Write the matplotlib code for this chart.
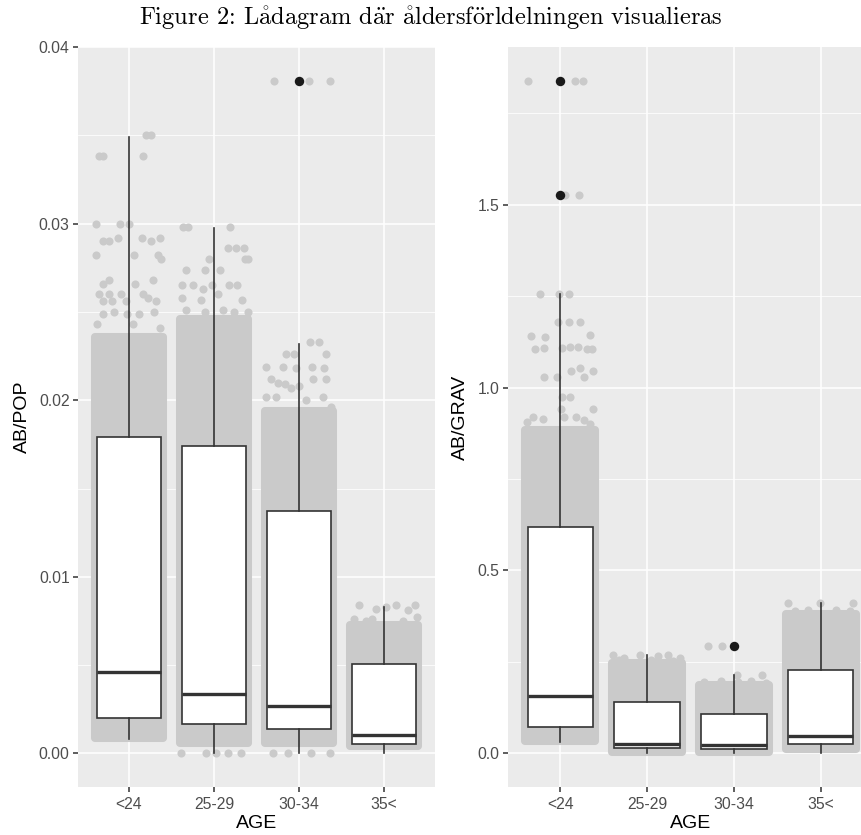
import matplotlib
matplotlib.use("Agg")
import matplotlib.pyplot as plt
from matplotlib.ticker import MultipleLocator

age_groups = ["<24", "25-29", "30-34", "35<"]

# AB/POP boxplot statistics
pop_q1 = [0.0020, 0.00164, 0.0014, 0.00055]
pop_med = [0.00461, 0.00334, 0.00266, 0.00102]
pop_q3 = [0.01789, 0.01739, 0.01373, 0.00508]
pop_whislo = [0.00083, 0.0, 0.0, 0.0]
pop_whishi = [0.03488, 0.02973, 0.02321, 0.00829]
pop_outliers = [[], [], [0.0381], []]
# dense part of the jittered point cloud (low, high)
pop_dense_lo = [0.0009, 0.0006, 0.0006, 0.0004]
pop_dense_hi = [0.0236, 0.0246, 0.0194, 0.0073]

# sparse jittered points (value, jitter offset)
pop_pts_lt24 = [(0.0350, 0.20), (0.0350, 0.26), (0.0338, -0.35), (0.0338, -0.31), (0.0338, 0.17),
                (0.0300, -0.39), (0.0300, -0.11), (0.0300, 0.0), (0.0290, -0.31), (0.0290, -0.23),
                (0.0292, -0.13), (0.0292, 0.15), (0.0290, 0.26), (0.0292, 0.36), (0.0282, -0.39),
                (0.0282, 0.06), (0.0282, 0.34), (0.0280, 0.38), (0.0268, -0.23), (0.0266, -0.31),
                (0.0266, 0.07), (0.0268, 0.28), (0.0260, -0.35), (0.0260, -0.23), (0.0260, -0.09),
                (0.0260, 0.16), (0.0258, 0.22), (0.0256, 0.32), (0.0256, -0.30), (0.0256, -0.20),
                (0.0256, -0.04), (0.0249, -0.30), (0.0250, -0.18), (0.0249, -0.02), (0.0249, 0.12),
                (0.0250, 0.29), (0.0243, -0.38), (0.0241, 0.37), (0.0243, 0.05)]
pop_pts_2529 = [(0.0298, -0.37), (0.0298, -0.31), (0.0298, 0.19), (0.0286, 0.17), (0.0286, 0.26),
                (0.0286, 0.35), (0.0280, 0.36), (0.0280, 0.40), (0.0280, -0.06), (0.0274, -0.33),
                (0.0274, -0.11), (0.0274, 0.07), (0.0265, -0.38), (0.0265, -0.25), (0.0263, -0.13),
                (0.0265, -0.02), (0.0265, 0.18), (0.0265, 0.27), (0.0258, -0.38), (0.0257, -0.15),
                (0.0257, 0.33), (0.0260, 0.05), (0.0250, 0.40), (0.0251, -0.33), (0.0250, -0.11),
                (0.0251, 0.10), (0.0250, 0.24), (0.0, -0.39), (0.0, -0.09), (0.0, 0.02),
                (0.0, 0.16), (0.0, 0.32)]
pop_pts_3034 = [(0.0381, -0.30), (0.0381, 0.12), (0.0381, 0.36), (0.0233, 0.13), (0.0233, 0.24),
                (0.0226, -0.15), (0.0226, -0.06), (0.0226, 0.32), (0.0219, -0.39), (0.0219, -0.19),
                (0.0218, -0.04), (0.0219, 0.15), (0.0218, 0.29), (0.0212, -0.33), (0.0210, -0.25),
                (0.0209, -0.17), (0.0212, 0.16), (0.0212, 0.32), (0.0202, -0.39), (0.0202, -0.27),
                (0.0207, -0.10), (0.0208, 0.0), (0.0202, 0.28), (0.0196, 0.38), (0.0200, 0.08),
                (0.0, -0.31), (0.0, -0.13), (0.0, 0.14), (0.0, 0.36)]
pop_pts_35 = [(0.0084, -0.29), (0.0082, -0.09), (0.0084, 0.14), (0.0084, 0.36), (0.0081, 0.28),
              (0.0083, 0.02), (0.0076, -0.35), (0.0075, -0.21), (0.0076, -0.14), (0.0075, 0.22),
              (0.0077, 0.39)]

# AB/GRAV boxplot statistics
grav_q1 = [0.072, 0.0146, 0.011, 0.0265]
grav_med = [0.158, 0.0265, 0.022, 0.0465]
grav_q3 = [0.618, 0.140, 0.108, 0.227]
grav_whislo = [0.031, 0.0, 0.0, 0.0]
grav_whishi = [1.256, 0.268, 0.213, 0.411]
grav_outliers = [[1.839, 1.526], [], [0.293], []]
grav_dense_lo = [0.033, 0.004, 0.004, 0.012]
grav_dense_hi = [0.885, 0.246, 0.186, 0.382]

grav_pts_lt24 = [(1.839, -0.37), (1.839, 0.17), (1.839, 0.26), (1.526, 0.06), (1.526, 0.22),
                 (1.256, -0.23), (1.256, -0.01), (1.256, 0.10), (1.178, -0.03), (1.178, 0.10),
                 (1.178, 0.23), (1.142, -0.34), (1.138, -0.17), (1.145, 0.34), (1.106, -0.29),
                 (1.108, -0.19), (1.107, 0.02), (1.110, 0.11), (1.112, 0.21), (1.106, 0.31),
                 (1.106, 0.37), (1.030, -0.19), (1.030, -0.04), (1.046, 0.13), (1.054, 0.23),
                 (1.045, 0.38), (1.030, 0.28), (0.975, 0.02), (0.975, 0.11), (0.942, 0.01),
                 (0.942, 0.38), (0.919, -0.31), (0.915, -0.20), (0.919, 0.05), (0.919, 0.18),
                 (0.912, 0.27), (0.905, -0.38), (0.900, 0.34)]
grav_pts_2529 = [(0.268, -0.39), (0.262, -0.27), (0.268, -0.08), (0.266, 0.13), (0.268, 0.24),
                 (0.262, 0.38), (0.255, -0.32), (0.255, 0.05), (0.252, 0.30)]
grav_pts_3034 = [(0.293, -0.30), (0.293, -0.14), (0.213, 0.32), (0.213, 0.03), (0.195, -0.35),
                 (0.198, -0.15), (0.196, 0.05), (0.197, 0.20), (0.193, 0.37)]
grav_pts_35 = [(0.411, -0.38), (0.411, -0.01), (0.411, 0.37), (0.390, -0.30), (0.392, -0.15),
               (0.393, 0.18), (0.390, 0.33)]

title = "Figure 2: Lådagram där åldersförldelningen visualieras"

POINT = "#CACACA"
INK = "#333333"
plt.rcParams["font.family"] = ["Liberation Sans", "DejaVu Sans"]
plt.rcParams["mathtext.fontset"] = "cm"

# cmr10 has no precomposed Swedish letters, so build them with math accents
ACCENTS = {"å": r"$\mathring{\mathrm{a}}$", "ä": r'$\ddot{\mathrm{a}}$', "ö": r'$\ddot{\mathrm{o}}$'}


def cm_text(s):
    return "".join(ACCENTS.get(c, c) for c in s)


def panel(ax, q1, med, q3, lo, hi, outl, dlo, dhi, pts, ylabel, yticks, ylabels, ylim, minor):
    pos = list(range(1, len(age_groups) + 1))
    ax.set_facecolor("#EBEBEB")
    # dense point cloud
    ax.bar(pos, [h - l for l, h in zip(dlo, dhi)], bottom=dlo, width=0.8, color=POINT,
           edgecolor=POINT, linewidth=5.8, joinstyle="round", zorder=2)
    for p, grp in zip(pos, pts):
        ax.scatter([p + d for _, d in grp], [v for v, _ in grp], s=34, color=POINT,
                   linewidths=0, zorder=2)
    stats = []
    for i in range(len(pos)):
        stats.append(dict(q1=q1[i], med=med[i], q3=q3[i], whislo=lo[i], whishi=hi[i],
                          fliers=outl[i]))
    ax.bxp(stats, positions=pos, widths=0.75, showcaps=False, patch_artist=True,
           boxprops=dict(facecolor="white", edgecolor=INK, linewidth=1.2),
           whiskerprops=dict(color=INK, linewidth=1.2),
           medianprops=dict(color=INK, linewidth=2.4),
           flierprops=dict(marker="o", markerfacecolor="#1A1A1A", markeredgecolor="none",
                           markersize=6.8),
           zorder=3)
    ax.set_xlim(0.4, 4.6)
    ax.set_ylim(*ylim)
    ax.set_xticks(pos)
    ax.set_xticklabels(age_groups)
    ax.set_yticks(yticks)
    ax.set_yticklabels(ylabels)
    ax.yaxis.set_minor_locator(MultipleLocator(minor))
    ax.grid(True, which="major", color="white", linewidth=1.1, zorder=0)
    ax.grid(True, which="minor", axis="y", color="white", linewidth=0.55, zorder=0)
    ax.set_axisbelow(True)
    for s in ax.spines.values():
        s.set_visible(False)
    ax.tick_params(axis="both", which="major", length=3.5, width=1.1, color=INK,
                   labelsize=11.3, labelcolor="#4D4D4D", pad=2.5)
    ax.tick_params(axis="x", which="major", pad=3.5)
    ax.tick_params(axis="both", which="minor", length=0)
    ax.set_xlabel("AGE", fontsize=14, color="black", labelpad=2)
    ax.set_ylabel(ylabel, fontsize=14, color="black", labelpad=6)


fig = plt.figure(figsize=(8.62, 8.35), dpi=100)
ax1 = fig.add_axes([78 / 862, 48 / 835, 357 / 862, 740 / 835])
ax2 = fig.add_axes([508 / 862, 48 / 835, 365 / 862, 740 / 835])

panel(ax1, pop_q1, pop_med, pop_q3, pop_whislo, pop_whishi, pop_outliers, pop_dense_lo,
      pop_dense_hi, [pop_pts_lt24, pop_pts_2529, pop_pts_3034, pop_pts_35], "AB/POP",
      [0.0, 0.01, 0.02, 0.03, 0.04], ["0.00", "0.01", "0.02", "0.03", "0.04"],
      (-0.0019, 0.0399), 0.005)
panel(ax2, grav_q1, grav_med, grav_q3, grav_whislo, grav_whishi, grav_outliers, grav_dense_lo,
      grav_dense_hi, [grav_pts_lt24, grav_pts_2529, grav_pts_3034, grav_pts_35], "AB/GRAV",
      [0.0, 0.5, 1.0, 1.5], ["0.0", "0.5", "1.0", "1.5"], (-0.092, 1.931), 0.25)

fig.text(431 / 862, 1 - 18 / 835, cm_text(title), ha="center", va="center", fontsize=17.6,
         family="cmr10")

fig.savefig("out.png", dpi=100)
